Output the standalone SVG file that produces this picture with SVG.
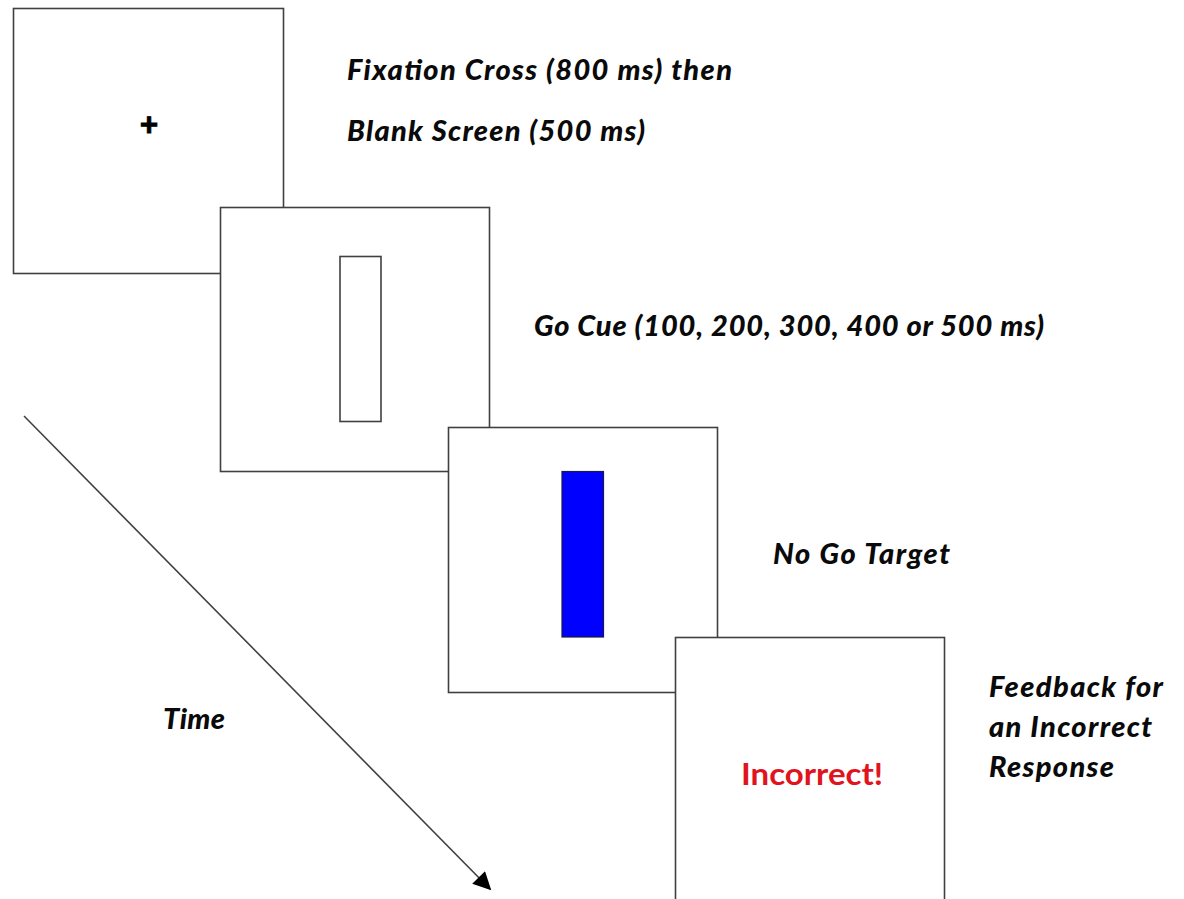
<svg xmlns="http://www.w3.org/2000/svg" width="1184" height="899" viewBox="0 0 1184 899">
<defs>
<style>
.screen{fill:#fff;stroke:#404040;stroke-width:1.6}
.lbl{font-family:Lato,"Liberation Sans",sans-serif;font-weight:900;font-style:italic;font-size:29px;fill:#0a0a0a}
</style>
<marker id="ah" viewBox="0 0 10 10" refX="9" refY="5" markerWidth="20" markerHeight="18" markerUnits="userSpaceOnUse" orient="auto">
<path d="M0,0 L10,5 L0,10 z" fill="#000"/>
</marker>
</defs>
<rect width="1184" height="899" fill="#fff"/>
<g id="screen1">
<rect class="screen" x="13.5" y="8.5" width="270" height="265"/>
<text x="149" y="136" font-family="Lato,'Liberation Sans',sans-serif" font-weight="900" font-size="32" text-anchor="middle" fill="#000" stroke="#000" stroke-width="0.8">+</text>
</g>
<g id="screen2">
<rect class="screen" x="220.5" y="207.5" width="269" height="264"/>
<rect class="screen" x="340" y="256.5" width="41" height="165"/>
</g>
<g id="screen3">
<rect class="screen" x="448.5" y="427.5" width="269" height="265"/>
<rect x="562" y="471.5" width="41.5" height="165.5" fill="#0000ff" stroke="#1a1a4a" stroke-width="1.2"/>
</g>
<g id="screen4">
<rect class="screen" x="675.5" y="637.5" width="269" height="280"/>
<text x="741" y="785" textLength="142" lengthAdjust="spacingAndGlyphs" font-family="Lato,'Liberation Sans',sans-serif" font-weight="bold" font-size="30" fill="#e0141e">Incorrect!</text>
</g>
<g id="labels">
<text class="lbl" x="347" y="80" textLength="385">Fixation Cross (800 ms) then</text>
<text class="lbl" x="347" y="141" textLength="298">Blank Screen (500 ms)</text>
<text class="lbl" x="534" y="336" textLength="510">Go Cue (100, 200, 300, 400 or 500 ms)</text>
<text class="lbl" x="773" y="564" textLength="177">No Go Target</text>
<text class="lbl" x="163" y="729" textLength="62">Time</text>
<text class="lbl" x="989" y="697" textLength="174">Feedback for</text>
<text class="lbl" x="989" y="737" textLength="163">an Incorrect</text>
<text class="lbl" x="989" y="777" textLength="125">Response</text>
</g>
<g id="connectors">
<line x1="24" y1="416" x2="490" y2="889" stroke="#404040" stroke-width="1.6" marker-end="url(#ah)"/>
</g>
</svg>
